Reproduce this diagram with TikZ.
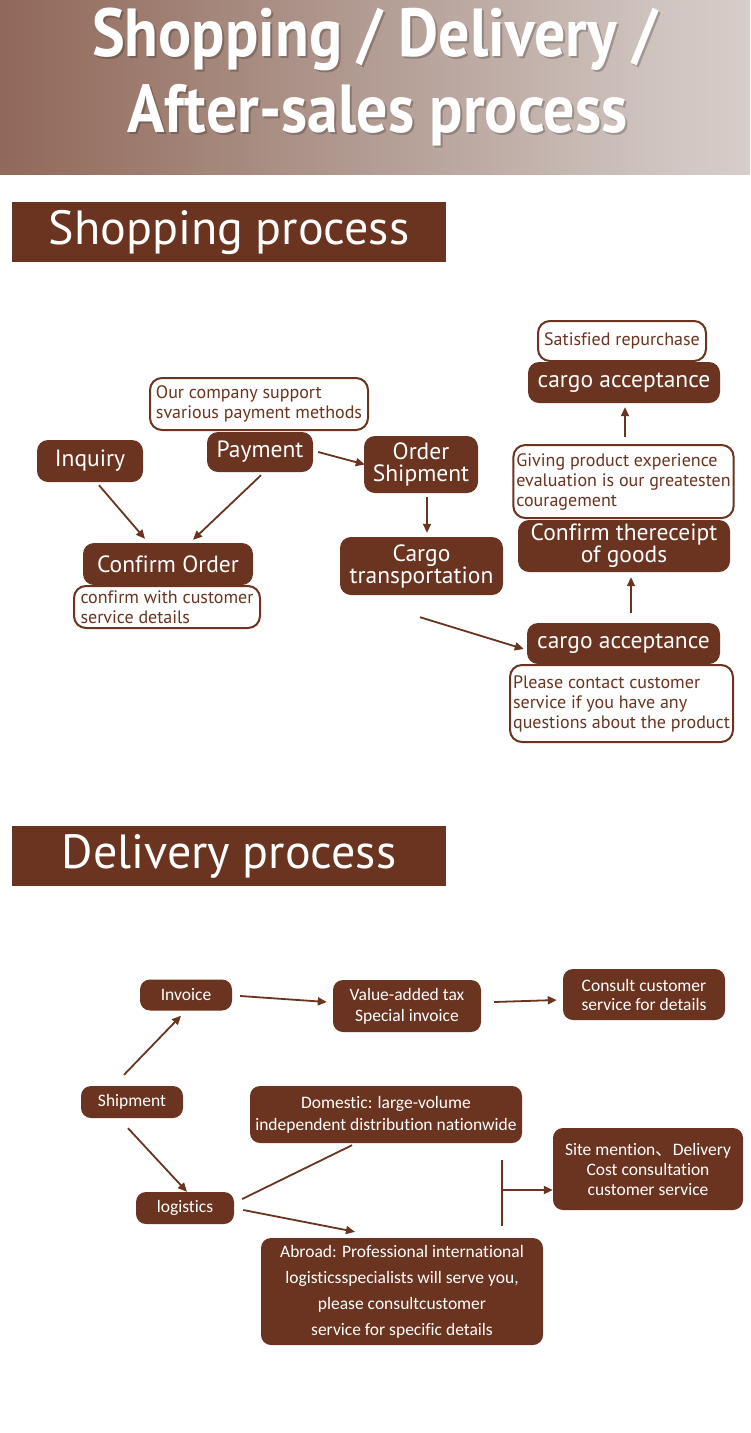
\documentclass[tikz,border=0pt]{standalone}
\usepackage{fontspec}
\setmainfont[Ligatures=NoCommon]{PT Sans}
\newfontfamily\dfont[Ligatures=NoCommon]{Carlito}
\newfontfamily\cjk{Noto Sans CJK SC}
\usetikzlibrary{arrows.meta,calc}
\definecolor{brn}{HTML}{6A3420}
\definecolor{hA}{HTML}{7E5040}
\definecolor{hB}{HTML}{7B4A39}
\definecolor{hC}{HTML}{8A5E4F}
\definecolor{hD}{HTML}{9E7D70}
\definecolor{hE}{HTML}{B39D94}
\definecolor{hF}{HTML}{D1C6C1}
\definecolor{hG}{HTML}{E3DCD9}
\definecolor{hH}{HTML}{EFEBE9}
\pgfdeclarehorizontalshading{hdr}{100bp}{color(0bp)=(hA); color(5bp)=(hB); color(20bp)=(hC); color(35bp)=(hD); color(50bp)=(hE); color(70bp)=(hF); color(85bp)=(hG); color(100bp)=(hH)}
\tikzset{
 bb/.style={fill=brn, text=white, rounded corners=11pt, inner sep=0pt, align=center, font=\fontsize{23.5}{22}\selectfont},
 nb/.style={draw=brn, line width=2pt, fill=white, text=brn, rounded corners=12pt, inner xsep=5pt, inner ysep=0pt, align=left, font=\fontsize{18}{20}\selectfont},
 db/.style={fill=brn, text=white, rounded corners=10pt, inner sep=0pt, align=center, font=\dfont\fontsize{17.5}{21}\selectfont},
 arr/.style={draw=brn, line width=1.8pt, -{Triangle[length=9pt,width=8pt]}},
 ln/.style={draw=brn, line width=1.8pt},
 banner/.style={fill=brn, text=white, minimum width=434pt, minimum height=60pt, inner sep=0pt, font=\fontsize{48}{50}\selectfont},
 ttl/.style={font=\fontsize{68}{72}\bfseries, inner sep=0pt, anchor=base},
}
\newcommand{\ttlbox}[1]{\scalebox{0.91}[1]{#1}}
\begin{document}
\begin{tikzpicture}[x=1pt,y=-1pt]
\useasboundingbox (0,0) rectangle (750,1433);
\fill[white] (0,0) rectangle (750,1433);
% header
\shade[shading=hdr] (0,0) rectangle (750,174);
\node[ttl, text=black, opacity=0.22] (t1s) at (377,58.5) {\ttlbox{Shopping / Delivery /}};
\node[ttl, text=white] (t1) at (375,56) {\ttlbox{Shopping / Delivery /}};
\node[ttl, text=black, opacity=0.22] (t2s) at (379.5,134.5) {\ttlbox{Af\kern0pt ter-sales process}};
\node[ttl, text=white] (t2) at (377.5,132) {\ttlbox{Af\kern0pt ter-sales process}};
% section banners
\node[banner] (sb1) at (229,232) {Shopping process};
\node[banner] (sb2) at (229,856) {Delivery process};

% ---------- shopping process ----------
\node[nb, minimum width=218pt, minimum height=52pt] (paynote) at (259,404) {Our company support\\svarious payment methods};
\node[bb, minimum width=106pt, minimum height=40pt] (payment) at (260,452) {Payment};
\node[bb, minimum width=106pt, minimum height=42pt] (inquiry) at (90,461) {Inquiry};
\node[bb, minimum width=170pt, minimum height=42pt] (confirm) at (168,564) {Confirm Order};
\node[nb, minimum width=186pt, minimum height=42pt] (confnote) at (167,607) {confirm with customer\\service details};
\node[bb, minimum width=114pt, minimum height=57pt] (ordership) at (421,464.5) {Order\\Shipment};
\node[bb, minimum width=163pt, minimum height=58pt] (cargotrans) at (421.5,566) {Cargo\\transportation};
\node[nb, minimum width=168pt, minimum height=40pt] (satisfied) at (622,341) {Satisfied repurchase};
\node[bb, minimum width=192pt, minimum height=41pt] (accA) at (624,382.5) {cargo acceptance};
\node[nb, minimum width=217pt, minimum height=73pt, inner xsep=3pt] (giving) at (623.5,481.5) {Giving product experience\\evaluation is our greatesten\\couragement};
\node[bb, minimum width=212pt, minimum height=52pt] (receipt) at (624,546) {Confirm thereceipt\\of goods};
\node[bb, minimum width=193pt, minimum height=41pt] (accB) at (623.5,643.5) {cargo acceptance};
\node[nb, minimum width=223pt, minimum height=77pt, inner xsep=3pt] (qnote) at (621.5,703.5) {Please contact customer\\service if you have any\\questions about the product};

\draw[arr] ($(inquiry.south)+(9,3)$) -- ($(confirm.north)+(-23,-4)$);
\draw[arr] ($(payment.south)+(1,3)$) -- ($(confirm.north)+(25,-3)$);
\draw[arr] ($(payment.east)+(5,0)$) -- ($(ordership.west)+(1,0)$);
\draw[arr] ($(ordership.south)+(6,4)$) -- ($(cargotrans.north)+(5.5,-4)$);
\draw[arr] ($(cargotrans.south)+(-1.5,22)$) -- ($(accB.west)+(-3,5.5)$);
\draw[arr] ($(accB.north)+(7.5,-10)$) -- ($(receipt.south)+(7,5)$);
\draw[arr] ($(giving.north)+(1.5,-7)$) -- ($(accA.south)+(1,4)$);

% ---------- delivery process ----------
\node[db, minimum width=92pt, minimum height=31pt] (invoice) at (186,995) {Invoice};
\node[db, minimum width=148pt, minimum height=52pt] (vat) at (407,1006) {Value-added tax\\Special invoice};
\node[db, minimum width=162pt, minimum height=51pt, font=\dfont\fontsize{17.5}{19}\selectfont] (consult) at (644,994.5) {Consult customer\\service for details};
\node[db, minimum width=102pt, minimum height=32pt] (shipment) at (132,1102) {Shipment};
\node[db, minimum width=98pt, minimum height=32pt] (logistics) at (185,1208) {logistics};
\node[db, minimum width=272pt, minimum height=57pt, font=\dfont\fontsize{17.5}{22}\selectfont] (domestic) at (386,1114.5) {Domestic: large-volume\\independent distribution nationwide};
\node[db, minimum width=190pt, minimum height=82pt, font=\dfont\fontsize{17.5}{20}\selectfont] (site) at (648,1169) {Site mention{\cjk 、}Delivery\\Cost consultation\\customer service};
\node[db, minimum width=282pt, minimum height=107pt, font=\dfont\fontsize{17.5}{26}\selectfont] (abroad) at (402,1291.5) {Abroad: Professional international\\logisticsspecialists will serve you,\\please consultcustomer\\service for specific details};

\draw[arr] ($(shipment.north)+(-8,-11)$) -- ($(invoice.south)+(-5,5)$);
\draw[arr] ($(invoice.east)+(8,1)$) -- ($(vat.west)+(-6,-4)$);
\draw[arr] ($(vat.east)+(13,-4)$) -- ($(consult.west)+(-6,5.5)$);
\draw[arr] ($(shipment.south)+(-4,10)$) -- ($(logistics.north)+(2,0)$);
\draw[ln] ($(logistics.east)+(8,-9)$) -- ($(domestic.south)+(-34,2)$);
\draw[arr] ($(logistics.east)+(9,2)$) -- ($(abroad.north)+(-47,-6)$);
\coordinate (brT) at (502,1160);
\coordinate (brB) at (502,1226);
\coordinate (brM) at (502,1190);
\draw[ln] (brT) -- (brB);
\draw[arr] (brM) -- ($(site.west)+(0,21)$);
\end{tikzpicture}
\end{document}
